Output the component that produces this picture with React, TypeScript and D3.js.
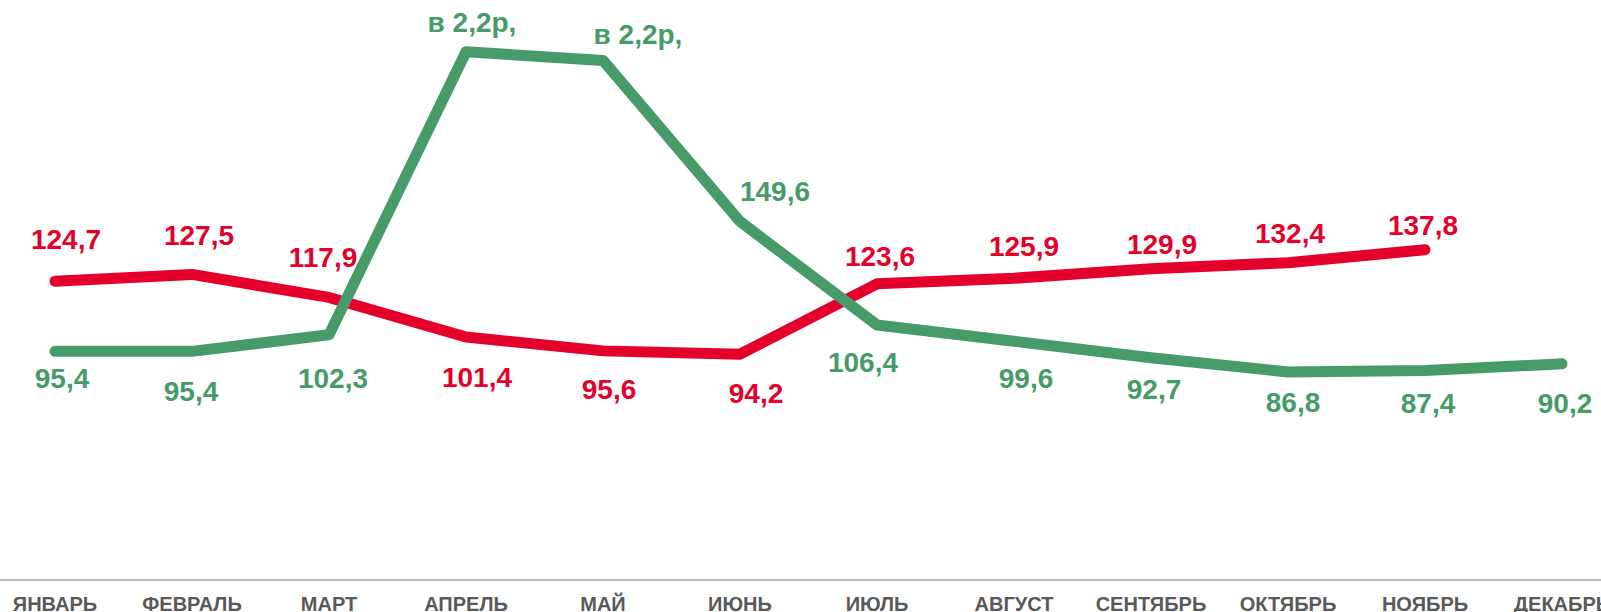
import * as d3 from 'd3';

const months = ['ЯНВАРЬ', 'ФЕВРАЛЬ', 'МАРТ', 'АПРЕЛЬ', 'МАЙ', 'ИЮНЬ', 'ИЮЛЬ', 'АВГУСТ', 'СЕНТЯБРЬ', 'ОКТЯБРЬ', 'НОЯБРЬ', 'ДЕКАБРЬ'];

// green series (April / May are the "2.2x" spike)
const greenValues = [95.4, 95.4, 102.3, 220.4, 216.8, 149.6, 106.4, 99.6, 92.7, 86.8, 87.4, 90.2];
const greenLabels = ['95,4', '95,4', '102,3', 'в 2,2р,', 'в 2,2р,', '149,6', '106,4', '99,6', '92,7', '86,8', '87,4', '90,2'];

// red series, no December value
const redValues = [124.7, 127.5, 117.9, 101.4, 95.6, 94.2, 123.6, 125.9, 129.9, 132.4, 137.8];
const redLabels = ['124,7', '127,5', '117,9', '101,4', '95,6', '94,2', '123,6', '125,9', '129,9', '132,4', '137,8'];

// label nudges relative to the point (centre x, baseline y)
const greenDx = [7, -1, 4, 6, 35, 35, -14, 12, 3, 5, 3, 3];
const greenDy = [37, 50, 53, -20, -16, -20, 47, 47, 41, 40, 42, 49];
const redDx = [11, 7, -6, 11, 6, 16, 3, 10, 11, 2, -2];
const redDy = [-32, -29, -30, 50, 48, 49, -18, -22, -15, -20, -15];

const W = 1601;
const H = 612;
const GREEN = '#469B68';
const RED = '#E3002B';
const FONT = '"Liberation Sans", Arial, sans-serif';

export default function App() {
  const x = d3.scalePoint<string>().domain(months).range([55, 1562]);
  const y = d3.scaleLinear().domain([0, 242]).range([580, 0]);

  const line = d3.line<number>()
    .x((_, i) => x(months[i]) as number)
    .y(d => y(d));

  return (
    <svg width={W} height={H} style={{ position: 'absolute', left: 0, top: 0, background: '#fff' }}>
      <line x1={0} x2={W} y1={y(0)} y2={y(0)} stroke="#A6A6A6" strokeWidth={1.5} />
      {months.map(m => (
        <text key={m} x={x(m)} y={611} textAnchor="middle" fontFamily={FONT} fontWeight="bold" fontSize={20} fill="#595959">
          {m}
        </text>
      ))}

      <path d={line(redValues) || ''} fill="none" stroke={RED} strokeWidth={11} strokeLinejoin="round" strokeLinecap="round" />
      <path d={line(greenValues) || ''} fill="none" stroke={GREEN} strokeWidth={11} strokeLinejoin="round" strokeLinecap="round" />

      {redValues.map((v, i) => (
        <text key={'r' + i} x={(x(months[i]) as number) + redDx[i]} y={y(v) + redDy[i]} textAnchor="middle"
          fontFamily={FONT} fontWeight="bold" fontSize={28} fill={RED}>
          {redLabels[i]}
        </text>
      ))}
      {greenValues.map((v, i) => (
        <text key={'g' + i} x={(x(months[i]) as number) + greenDx[i]} y={y(v) + greenDy[i]} textAnchor="middle"
          fontFamily={FONT} fontWeight="bold" fontSize={28} fill={GREEN}>
          {greenLabels[i]}
        </text>
      ))}
    </svg>
  );
}
